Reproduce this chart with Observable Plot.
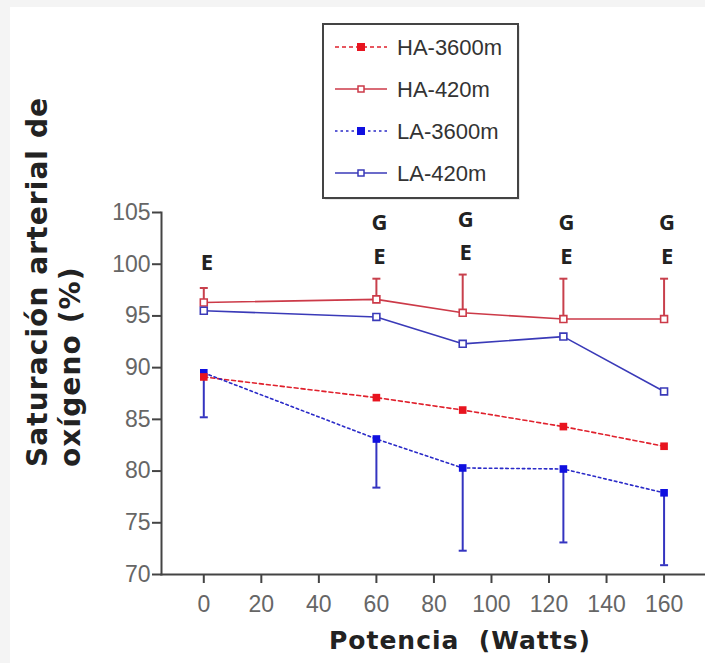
<!DOCTYPE html>
<html><head><meta charset="utf-8">
<script src="https://cdn.jsdelivr.net/npm/d3@7"></script>
<script src="https://cdn.jsdelivr.net/npm/@observablehq/plot@0.6"></script>
<style>
html,body{margin:0;padding:0;background:#f4f4f4;width:705px;height:663px;overflow:hidden;}
#chart{position:absolute;left:10px;top:7px;width:695px;height:656px;background:#fff;}
</style></head><body><div id="chart"></div>
<script>
// ---- data ----
const watts = [0, 60, 90, 125, 160];
const ha3600 = [89.1, 87.1, 85.9, 84.3, 82.4];
const ha420 = [96.3, 96.6, 95.3, 94.7, 94.7];
const la3600 = [89.5, 83.1, 80.3, 80.2, 77.9];
const la420 = [95.5, 94.9, 92.3, 93.0, 87.7];
const ha420Upper = [97.7, 98.6, 99.0, 98.6, 98.6];
const la3600Lower = [85.2, 78.4, 72.3, 73.1, 70.9];
const seriesNames = ["HA-3600m", "HA-420m", "LA-3600m", "LA-420m"];
const xTicks = [0, 20, 40, 60, 80, 100, 120, 140, 160];
const yTicks = [70, 75, 80, 85, 90, 95, 100, 105];
const annotX = [0, 60, 60, 90, 90, 125, 125, 160, 160];
const annotY = [100.1, 104.0, 100.7, 104.3, 101.1, 104.0, 100.7, 104.0, 100.7];
const annotText = ["E", "G", "E", "G", "E", "G", "E", "G", "E"];
const xTitle = "Potencia  (Watts)";
const yTitleLines = ["Saturación arterial de", "oxígeno (%)"];

// ---- styles ----
const styles = {
  "HA-3600m": {stroke: "#e0202c", dash: "4,3", fill: "#e8141f", open: false},
  "HA-420m": {stroke: "#cc3a48", dash: null, fill: "#fff", open: true},
  "LA-3600m": {stroke: "#2a2ac8", dash: "2.5,3", fill: "#1010e0", open: false},
  "LA-420m": {stroke: "#3a3ab8", dash: null, fill: "#fff", open: true}
};
const valuesBy = {"HA-3600m": ha3600, "HA-420m": ha420, "LA-3600m": la3600, "LA-420m": la420};
const rowsOf = name => watts.map((w, i) => ({watts: w, value: valuesBy[name][i], series: name}));
const haErr = watts.map((w, i) => ({watts: w, y: ha420[i], end: ha420Upper[i]}));
const laErr = watts.map((w, i) => ({watts: w, y: la3600[i], end: la3600Lower[i]}));
const annots = annotX.map((x, i) => ({x, y: annotY[i], t: annotText[i]}));
const capSymbol = {draw(ctx) { ctx.moveTo(-4, 0); ctx.lineTo(4, 0); }};

const lineMarks = seriesNames.map(n => Plot.line(rowsOf(n), {
  x: "watts", y: "value", stroke: styles[n].stroke, strokeWidth: 1.6,
  strokeDasharray: styles[n].dash || undefined
}));
const dotMarks = ["HA-420m", "LA-420m", "LA-3600m", "HA-3600m"].map(n => Plot.dot(rowsOf(n), {
  x: "watts", y: "value", symbol: "square", r: styles[n].open ? 3.9 : 4.3,
  fill: styles[n].fill, stroke: styles[n].open ? styles[n].stroke : "none", strokeWidth: 1.6
}));

const plot = Plot.plot({
  width: 695, height: 656,
  marginLeft: 151, marginRight: 0, marginTop: 205, marginBottom: 89,
  style: {fontFamily: "Liberation Sans", background: "#fff", overflow: "visible"},
  x: {domain: [-14.7, 174.4]},
  y: {domain: [70, 105]},
  marks: [
    Plot.axisX({ticks: xTicks, tickSize: 9, tickPadding: 12, fontSize: 23, stroke: "#444", strokeWidth: 2, fill: "#666", label: null}),
    Plot.axisY({ticks: yTicks, tickSize: 9, tickPadding: 2, fontSize: 23, stroke: "#444", strokeWidth: 2, fill: "#666", label: null}),
    Plot.frame({anchor: "left", stroke: "#444", strokeWidth: 2}),
    Plot.frame({anchor: "bottom", stroke: "#444", strokeWidth: 2}),
    ...lineMarks,
    Plot.ruleX(haErr, {x: "watts", y1: "y", y2: "end", stroke: "#c8404c", strokeWidth: 2}),
    Plot.dot(haErr, {x: "watts", y: "end", symbol: capSymbol, stroke: "#c8404c", strokeWidth: 2}),
    Plot.ruleX(laErr, {x: "watts", y1: "y", y2: "end", stroke: "#3434c0", strokeWidth: 2}),
    Plot.dot(laErr, {x: "watts", y: "end", symbol: capSymbol, stroke: "#3434c0", strokeWidth: 2}),
    ...dotMarks,
    Plot.text(annots, {x: "x", y: "y", text: "t", dx: 3, fontSize: 22, fontWeight: "bold",
      fontFamily: "Open Sans", fill: "#222"})
  ]
});
document.getElementById("chart").appendChild(plot);

// ---- titles and legend ----
const svg = d3.select(plot);
svg.append("text").attr("x", 450).attr("y", 642).attr("text-anchor", "middle")
  .style("font-family", "DejaVu Sans").style("font-weight", "bold").style("font-size", "25px")
  .style("letter-spacing", "1px")
  .attr("fill", "#222").style("white-space", "pre").text(xTitle);
yTitleLines.forEach((line, i) => {
  svg.append("text").attr("transform", `translate(${37 + i * 33},460) rotate(-90)`)
    .attr("text-anchor", "start")
    .style("font-family", "DejaVu Sans").style("font-weight", "bold").style("font-size", "28px")
    .style("letter-spacing", "1.1px")
    .attr("fill", "#222").text(line);
});
const lg = svg.append("g").attr("text-anchor", "start");
lg.append("rect").attr("x", 315).attr("y", 19).attr("width", 195).attr("height", 174).attr("fill", "#e8e8e8");
lg.append("rect").attr("x", 313).attr("y", 17).attr("width", 195).attr("height", 174)
  .attr("fill", "#fff").attr("stroke", "#444").attr("stroke-width", 2);
seriesNames.forEach((n, i) => {
  const cy = 40 + i * 42;
  const s = styles[n];
  lg.append("line").attr("x1", 325).attr("x2", 377).attr("y1", cy).attr("y2", cy)
    .attr("stroke", s.stroke).attr("stroke-width", 1.6).attr("stroke-dasharray", s.dash);
  lg.append("rect").attr("x", s.open ? 348 : 347).attr("y", cy - (s.open ? 3 : 4))
    .attr("width", s.open ? 6 : 8).attr("height", s.open ? 6 : 8)
    .attr("fill", s.fill).attr("stroke", s.open ? s.stroke : "none").attr("stroke-width", 1.5);
  lg.append("text").attr("x", 387).attr("y", cy).attr("dy", "0.36em").attr("text-anchor", "start")
    .style("font-family", "Liberation Sans").style("font-size", "22px").attr("fill", "#333").text(n);
});
</script>
</body></html>
